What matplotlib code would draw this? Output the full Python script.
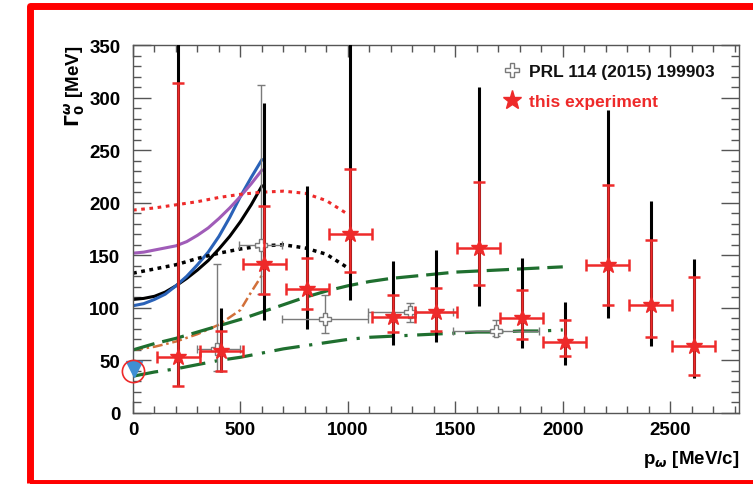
import matplotlib
matplotlib.use("Agg")
import matplotlib.pyplot as plt
import matplotlib.patches as patches
from matplotlib.lines import Line2D
from matplotlib.ticker import MultipleLocator
import numpy as np

# this experiment (red stars): momentum bin centres, widths, width values, errors
exp_p = [210, 410, 610, 810, 1010, 1210, 1410, 1610, 1810, 2010, 2210, 2410, 2610]
exp_dp = [100, 100, 100, 100, 100, 100, 100, 100, 100, 100, 100, 100, 100]
exp_g = [53, 59, 142, 118, 170, 91, 96, 157, 90, 68, 141, 103, 64]
stat_hi = [314, 78, 197, 147, 232, 112, 119, 220, 117, 88, 217, 165, 129]
stat_lo = [26, 40, 113, 99, 134, 77, 78, 122, 70, 54, 103, 72, 36]
tot_hi = [360, 100, 295, 216, 360, 145, 155, 310, 147, 106, 288, 202, 146]
tot_lo = [26, 39, 88, 80, 107, 65, 68, 102, 62, 46, 90, 64, 33]

# PRL 114 (2015) 199903 (open crosses)
prl_p = [392, 595, 895, 1290, 1690]
prl_g = [61, 160, 89, 96, 78]
prl_lo = [40, 113, 76, 87, 73]
prl_hi = [142, 312, 112, 105, 88]
prl_pl = [300, 495, 695, 1095, 1490]
prl_ph = [500, 695, 1095, 1490, 1890]

# model curves
p_low = [0, 50, 100, 150, 200, 250, 300, 350, 400, 450, 500, 550, 600]
black_solid = [108, 109, 111, 115, 121, 128, 136, 145, 156, 168, 182, 198, 216]
blue_solid = [102, 104, 108, 113, 121, 130, 141, 153, 168, 186, 206, 224, 241]
purple_solid = [152, 153, 155, 157, 159, 163, 169, 176, 185, 195, 206, 218, 231]

p_orange = [0, 100, 200, 300, 400, 500, 550, 600]
orange_dd = [60, 63, 68, 75, 84, 98, 115, 131]

p_dot = [0, 100, 200, 300, 400, 500, 600, 700, 800, 900, 1000]
red_dot = [193, 195, 198, 201, 205, 208, 210, 211, 209, 202, 189]
black_dot = [133, 137, 141, 147, 152, 156, 159, 160, 157, 151, 138]

p_green = [0, 100, 200, 300, 400, 500, 600, 700, 800, 900, 1000,
           1100, 1200, 1300, 1400, 1500, 1600, 1700, 1800, 1900, 2000]
green_dash = [60, 66, 71, 77, 83, 89, 96, 103, 110, 116, 121,
              125, 128, 130, 132, 134, 135, 136, 137, 138, 139]
green_dashdot = [35, 39, 42, 46, 50, 53, 57, 61, 64, 67, 70,
                 72, 73, 74, 75, 76, 77, 77, 78, 78, 79]

vacuum_p = [0]
vacuum_g = [40]

RED = "#ee2a2a"
GREEN = "#1f6f2f"
GRAY = "#7a7a7a"

plt.rcParams.update({
    "font.family": ["Liberation Sans", "DejaVu Sans"],
    "font.weight": "bold",
    "axes.linewidth": 1.0,
})

fig = plt.figure(figsize=(7.53, 4.85), dpi=100)
ax = fig.add_axes([133 / 753, 71 / 485, 606 / 753, 368 / 485])

ax.plot(p_low, black_solid, color="black", lw=2.2, zorder=2)
ax.plot(p_low, blue_solid, color="#2a62b8", lw=2.2, zorder=2)
ax.plot(p_low, purple_solid, color="#a05cb8", lw=2.2, zorder=2)
ax.plot(p_orange, orange_dd, color="#d2703a", lw=1.8, ls=(0, (4, 1.5, 1, 1.5)), zorder=2)
ax.plot(p_dot, red_dot, color=RED, lw=2.2, ls=(0, (1.2, 1.5)), zorder=2)
ax.plot(p_dot, black_dot, color="black", lw=2.5, ls=(0, (1.1, 1.3)), zorder=2)
ax.plot(p_green, green_dash, color=GREEN, lw=2.3, ls=(0, (7, 2.5)), zorder=2)
ax.plot(p_green, green_dashdot, color=GREEN, lw=2.3, ls=(0, (8, 3, 1, 3)), zorder=2)

# total errors (black)
g = np.array(exp_g)
ax.errorbar(exp_p, exp_g, yerr=[g - np.array(tot_lo), np.array(tot_hi) - g],
            fmt="none", ecolor="black", elinewidth=2.2, capsize=0, zorder=3)

# PRL points
pg = np.array(prl_g)
pp = np.array(prl_p)
ax.errorbar(prl_p, prl_g, yerr=[pg - np.array(prl_lo), np.array(prl_hi) - pg],
            xerr=[pp - np.array(prl_pl), np.array(prl_ph) - pp],
            fmt="none", ecolor=GRAY, elinewidth=1.0, capsize=3, capthick=1.0, zorder=4)
ax.plot(prl_p, prl_g, ls="none", marker="P", ms=8, mfc="white", mec=GRAY, mew=1.0, zorder=4.5)

# this experiment (statistical)
ax.errorbar(exp_p, exp_g, yerr=[g - np.array(stat_lo), np.array(stat_hi) - g],
            xerr=exp_dp, fmt="none", ecolor=RED, elinewidth=1.8,
            capsize=4, capthick=1.8, zorder=5)
ax.plot(exp_p, exp_g, ls="none", marker="*", ms=12, color=RED, zorder=6)

# vacuum width marker
ax.plot([v + 5 for v in vacuum_p], [vacuum_g[0] + 2], marker="v", ms=11, color="#3f8fd4",
        ls="none", clip_on=False, zorder=7)
ax.plot(vacuum_p, vacuum_g, marker="o", ms=16, mfc="none", mec=RED, mew=1.2,
        ls="none", clip_on=False, zorder=7)

ax.set_xlim(0, 2820)
ax.set_ylim(0, 350)
ax.xaxis.set_major_locator(MultipleLocator(500))
ax.xaxis.set_minor_locator(MultipleLocator(100))
ax.yaxis.set_major_locator(MultipleLocator(50))
ax.yaxis.set_minor_locator(MultipleLocator(10))
ax.tick_params(axis="both", which="both", direction="in", top=True, right=True,
               colors="#555555", labelcolor="black", labelsize=13.5)
ax.tick_params(axis="x", which="major", length=8.6, width=1.0, pad=5.5)
ax.tick_params(axis="x", which="minor", length=4.7, width=1.0)
ax.tick_params(axis="y", which="major", length=13, width=1.0, pad=9)
ax.tick_params(axis="y", which="minor", length=6, width=1.0)
for s in ax.spines.values():
    s.set_color("#555555")

ax.set_xlabel(r"p$_{\omega}$ [MeV/c]", fontsize=13.5, fontweight="bold", loc="right")
ax.xaxis.set_label_coords(1.0, -0.095)
ax.set_ylabel(r"$\Gamma^{\omega}_{0}$ [MeV]", fontsize=13.5, fontweight="bold", loc="top")
ax.yaxis.set_label_coords(-0.076, 1.0)

handles = [
    Line2D([], [], ls="none", marker="P", ms=10, mfc="white", mec=GRAY, mew=1.0),
    Line2D([], [], ls="none", marker="*", ms=14, color=RED),
]
ax.legend(handles, ["PRL 114 (2015) 199903", "this experiment"],
          loc="upper left", bbox_to_anchor=(0.585, 0.99), frameon=False,
          handlelength=1.0, handletextpad=0.5, labelspacing=0.85,
          prop={"weight": "bold", "size": 12.5}, labelcolor=["#111111", RED])

# red frame around the figure
fig.add_artist(patches.Rectangle((29.5 / 753, 1.5 / 485), 1.1, 477 / 485,
                                 transform=fig.transFigure, fill=False,
                                 edgecolor="#ff0000", lw=5, joinstyle="round"))

fig.savefig("out.png", dpi=100)
